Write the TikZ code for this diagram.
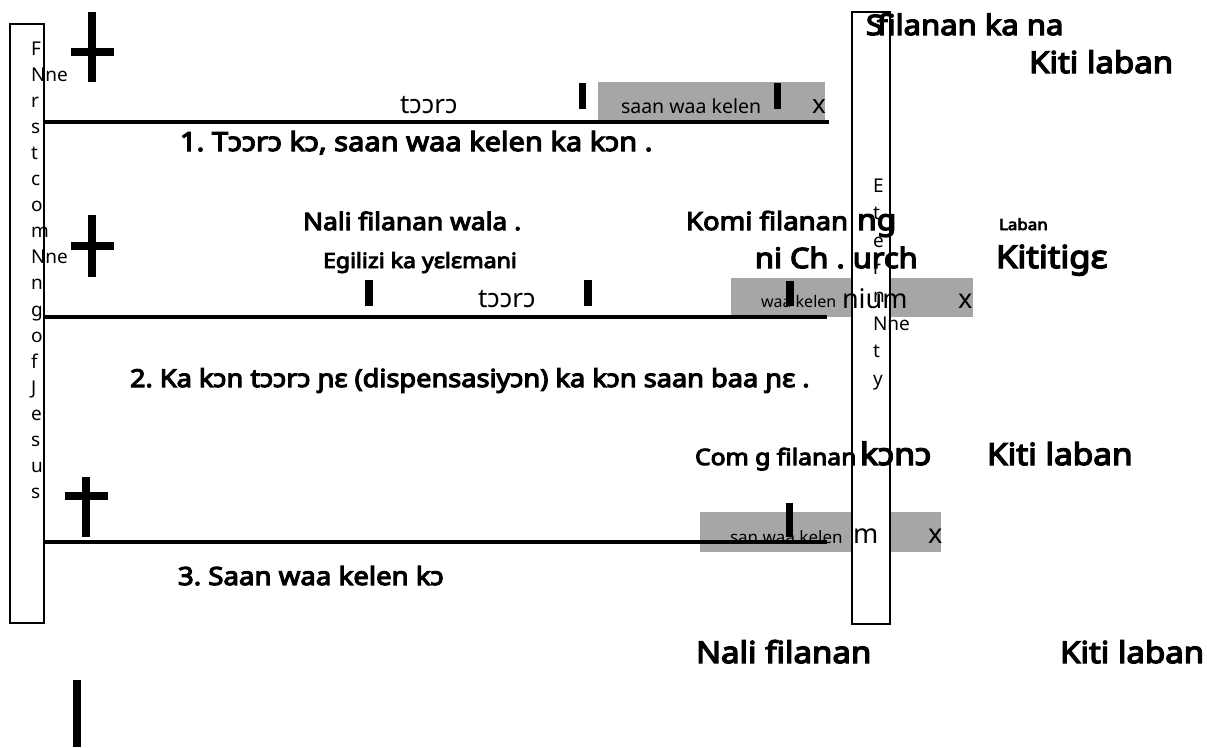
\documentclass[tikz,border=0pt]{standalone}
\usepackage{fontspec}
\setmainfont{Noto Sans}[BoldFont={Noto Sans}, BoldFeatures={FakeBold=4.5, FakeStretch=1.1}]
\frenchspacing
\tikzset{
  txt/.style={inner sep=0pt, outer sep=0pt, anchor=base west},
  bsz/.style={txt, font=\bfseries\fontsize{#1}{#1}\selectfont},
  rsz/.style={txt, font=\fontsize{#1}{#1}\selectfont},
  vlet/.style={txt, font=\fontsize{19}{23}\selectfont},
  timeline/.style={line width=3.5pt},
  frame/.style={draw=black, line width=1.8pt, fill=white},
  grayband/.style={fill=gray!70, draw=none},
  bar/.style={fill=black, draw=none}
}
\begin{document}
\begin{tikzpicture}[x=1pt,y=-1pt]
\useasboundingbox (0,0) rectangle (1207,747);
% gray bands
\fill[grayband] (598,82) rectangle (825,121);
\fill[grayband] (731,278) rectangle (973,317);
\fill[grayband] (700,512) rectangle (941,552);
% small texts in bands
\node[rsz=19.5] (s1) at (621,113) {saan waa kelen};
\node[rsz=16] (s2) at (761,307) {waa kelen};
\node[rsz=17] (s3) at (730,543) {san waa kelen};
% left frame
\draw[frame] (10,24) rectangle (44,623);
\foreach \t [count=\i from 0] in {F,Nne,r,s,t,c,o,m,Nne,n,g,o,f,J,e,s,u,s}
  \node[vlet] (lf\i) at (31,55+26.1*\i) {\t};
% right frame
\draw[frame] (852,12) rectangle (890,624);
\foreach \t [count=\i from 0] in {E,t,e,r,n,Nne,t,y}
  \node[vlet] (rf\i) at (873,192+27.6*\i) {\t};
% timelines
\coordinate (l1a) at (44,122); \coordinate (l1b) at (829,122);
\coordinate (l2a) at (44,317); \coordinate (l2b) at (827,317);
\coordinate (l3a) at (44,542); \coordinate (l3b) at (827,542);
\draw[timeline] (l1a) -- (l1b);
\draw[timeline] (l2a) -- (l2b);
\draw[timeline] (l3a) -- (l3b);
% crosses
\fill[bar] (88,12) rectangle (96,82);
\fill[bar] (71,48) rectangle (114,56);
\fill[bar] (88,215) rectangle (96,277);
\fill[bar] (71,242) rectangle (114,250);
\fill[bar] (82,477) rectangle (90,537);
\fill[bar] (65,492) rectangle (108,500);
\fill[bar] (73,680) rectangle (81,747);
% tick bars
\fill[bar] (579,83) rectangle (586,109);
\fill[bar] (774,83) rectangle (781,109);
\fill[bar] (365,280) rectangle (373,306);
\fill[bar] (584,280) rectangle (592,306);
\fill[bar] (786,281) rectangle (794,306);
\fill[bar] (786,503) rectangle (793,537);
% regular texts
\node[rsz=26] (tr1) at (400,113) {tɔɔrɔ};
\node[rsz=26] (x1) at (812,113) {x};
\node[rsz=26] (tr2) at (478,307) {tɔɔrɔ};
\node[rsz=27] (nium) at (842,308) {nium};
\node[rsz=27] (x2) at (958,308) {x};
\node[rsz=27] (m3) at (853,543) {m};
\node[rsz=27] (x3) at (928,543) {x};
% bold texts
\node[bsz=28.2] (S) at (866,35) {S};
\node[bsz=28.2] (fil) at (877,35) {filanan ka na};
\node[bsz=30] (kl1) at (1029,73) {Kiti laban};
\node[bsz=26.4] (c1) at (180,151) {1. Tɔɔrɔ kɔ, saan waa kelen ka kɔn .};
\node[bsz=24] (nali) at (303,230) {Nali filanan wala .};
\node[bsz=21] (egl) at (323,268) {Egilizi ka yɛlɛmani};
\node[bsz=25] (komi) at (686,230) {Komi filanan};
\node[bsz=29] (ng) at (857,230) {ng};
\node[bsz=28] (church) at (755,268) {ni Ch . urch};
\node[bsz=15.4] (laban) at (999,230) {Laban};
\node[bsz=31.5] (kitig) at (996,268) {Kititigɛ};
\node[bsz=24.7] (c2) at (130,387) {2. Ka kɔn tɔɔrɔ ɲɛ (dispensasiyɔn) ka kɔn saan baa ɲɛ .};
\node[bsz=22.5] (comg) at (695,465) {Com g filanan};
\node[bsz=30.7] (kono) at (860,465) {kɔnɔ};
\node[bsz=30.3] (kl2) at (987,465) {Kiti laban};
\node[bsz=25.1] (c3) at (178,585) {3. Saan waa kelen kɔ};
\node[bsz=30] (nf) at (696,663) {Nali filanan};
\node[bsz=30] (kl3) at (1060,663) {Kiti laban};
\end{tikzpicture}
\end{document}
